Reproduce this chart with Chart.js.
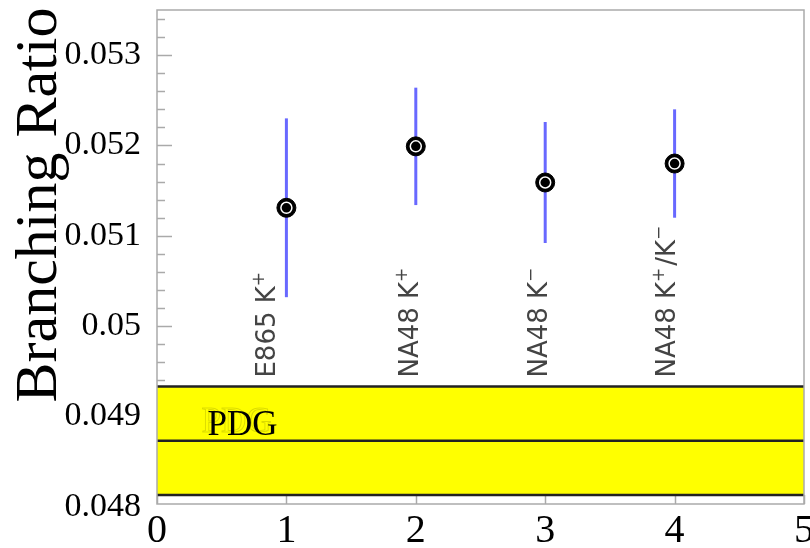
<!DOCTYPE html>
<html><head><meta charset="utf-8">
<script src="https://cdn.jsdelivr.net/npm/chart.js@4"></script>
<style>html,body{margin:0;padding:0;background:#fff}#wrap{width:810px;height:548px}</style>
</head><body><div id="wrap"><canvas id="c" width="810" height="548"></canvas></div>
<script>
const categories = ['E865 K⁺', 'NA48 K⁺', 'NA48 K⁻', 'NA48 K⁺/K⁻'];
const xPositions = [1, 2, 3, 4];
const brValues = [0.05131, 0.05199, 0.05159, 0.05180];
const brErrors = [0.00099, 0.00065, 0.00067, 0.0006];
const pdgValue = 0.04873;
const pdgError = 0.0006;
const yTickValues = [0.048, 0.049, 0.050, 0.051, 0.052, 0.053];
const yTickLabels = ['0.048', '0.049', '0.05', '0.051', '0.052', '0.053'];
const xTickValues = [0, 1, 2, 3, 4, 5];
const xTickLabels = ['0', '1', '2', '3', '4', '5'];

// label anchor positions (in data units)
const labelX = [0.835, 1.94, 2.937, 3.926];
const labelYStart = 0.04943;

const points = xPositions.map((x, i) => ({x: x, y: brValues[i]}));

const decor = {
  id: 'decor',
  beforeDatasetsDraw(chart) {
    const ctx = chart.ctx, xs = chart.scales.x, ys = chart.scales.y, a = chart.chartArea;
    ctx.save();
    // ticks
    ctx.strokeStyle = '#aaa';
    ctx.lineWidth = 1.5;
    for (let k = 1; k <= 27; k++) {
      const v = 0.048 + k * 0.0002;
      const py = Math.round(ys.getPixelForValue(v)) + 0.5;
      const major = k % 5 === 0;
      ctx.beginPath();
      ctx.moveTo(a.left, py);
      ctx.lineTo(a.left + (major ? 15 : 8), py);
      ctx.stroke();
    }
    xTickValues.forEach(v => {
      const px = Math.round(xs.getPixelForValue(v)) + 0.5;
      ctx.beginPath();
      ctx.moveTo(px, a.bottom);
      ctx.lineTo(px, a.bottom - 9);
      ctx.stroke();
    });
    // PDG band
    const yTop = ys.getPixelForValue(pdgValue + pdgError);
    const yBot = ys.getPixelForValue(pdgValue - pdgError);
    const yMid = ys.getPixelForValue(pdgValue);
    const x0 = xs.getPixelForValue(0), x1 = xs.getPixelForValue(5);
    ctx.fillStyle = '#ffff00';
    ctx.fillRect(x0, yTop, x1 - x0, yBot - yTop);
    ctx.strokeStyle = '#222';
    ctx.lineWidth = 2.5;
    [yTop, yMid, yBot].forEach(py => {
      ctx.beginPath();
      ctx.moveTo(x0, py);
      ctx.lineTo(x1, py);
      ctx.stroke();
    });
    // frame
    ctx.strokeStyle = '#aaa';
    ctx.lineWidth = 1.5;
    ctx.strokeRect(a.left, a.top, a.right - a.left, a.bottom - a.top);
    // error bars
    ctx.strokeStyle = '#6868ff';
    ctx.lineWidth = 3;
    xPositions.forEach((x, i) => {
      const px = xs.getPixelForValue(x);
      ctx.beginPath();
      ctx.moveTo(px, ys.getPixelForValue(brValues[i] + brErrors[i]));
      ctx.lineTo(px, ys.getPixelForValue(brValues[i] - brErrors[i]));
      ctx.stroke();
    });
    ctx.restore();
  },
  afterDatasetsDraw(chart) {
    const ctx = chart.ctx, xs = chart.scales.x, ys = chart.scales.y;
    ctx.save();
    // rotated experiment labels
    categories.forEach((txt, i) => {
      const px = xs.getPixelForValue(labelX[i]);
      const py = ys.getPixelForValue(labelYStart);
      ctx.save();
      ctx.translate(px, py);
      ctx.rotate(-Math.PI / 2);
      ctx.fillStyle = '#444';
      ctx.textBaseline = 'alphabetic';
      ctx.textAlign = 'left';
      let cx = 0;
      for (const ch of txt) {
        if (ch === '⁺' || ch === '⁻') {
          ctx.font = '17px "DejaVu Sans"';
          const s = ch === '⁺' ? '+' : '−';
          ctx.fillText(s, cx, -1);
          cx += ctx.measureText(s).width + 2;
        } else {
          ctx.font = '26px "DejaVu Sans"';
          ctx.fillText(ch, cx, 10);
          cx += ctx.measureText(ch).width;
        }
      }
      ctx.restore();
    });
    // PDG label
    const lx = xs.getPixelForValue(0.39), ly = ys.getPixelForValue(pdgValue) - 6;
    ctx.font = '35px "Liberation Serif"';
    ctx.textAlign = 'left';
    ctx.textBaseline = 'alphabetic';
    ctx.strokeStyle = 'rgba(0,0,0,0.14)';
    ctx.lineWidth = 1;
    ctx.strokeText('PDG', lx - 6, ly - 3);
    ctx.fillStyle = '#000';
    ctx.fillText('PDG', lx, ly);
    ctx.restore();
  },
  afterDraw(chart) {
    const ctx = chart.ctx;
    ctx.save();
    ctx.translate(56, 205);
    ctx.rotate(-Math.PI / 2);
    ctx.font = '60px "Liberation Serif"';
    ctx.fillStyle = '#000';
    ctx.textAlign = 'center';
    ctx.textBaseline = 'alphabetic';
    ctx.fillText('Branching Ratio', 0, 0);
    ctx.restore();
  }
};

new Chart(document.getElementById('c'), {
  type: 'scatter',
  data: {
    datasets: [
      {data: points, order: 0, pointRadius: 5.5, pointBackgroundColor: '#000', pointBorderColor: '#fff', pointBorderWidth: 1.5, showLine: false},
      {data: points, order: 1, pointRadius: 9.5, pointBackgroundColor: '#000', pointBorderColor: '#000', pointBorderWidth: 1, showLine: false}
    ]
  },
  options: {
    responsive: false,
    animation: false,
    events: [],
    layout: {autoPadding: false, padding: {top: 10, right: 6, left: 0, bottom: 0}},
    plugins: {legend: {display: false}, tooltip: {enabled: false}},
    scales: {
      x: {
        type: 'linear', min: 0, max: 5,
        grid: {display: false, drawTicks: false},
        border: {display: false},
        afterBuildTicks: s => { s.ticks = xTickValues.map(v => ({value: v})); },
        afterFit: s => { s.height = 44; s.paddingLeft = 0; s.paddingRight = 0; s.paddingTop = 0; s.paddingBottom = 0; },
        ticks: {
          padding: 3, maxRotation: 0, autoSkip: false, color: '#000',
          font: {family: '"Liberation Serif"', size: 40},
          callback: (v, i) => xTickLabels[i]
        }
      },
      y: {
        type: 'linear', min: 0.04803, max: 0.0535,
        grid: {display: false, drawTicks: false},
        border: {display: false},
        afterBuildTicks: s => { s.ticks = yTickValues.map(v => ({value: v})); },
        afterFit: s => { s.width = 157; s.paddingTop = 0; s.paddingBottom = 0; s.paddingLeft = 0; s.paddingRight = 0; },
        ticks: {
          padding: 16, autoSkip: false, color: '#000',
          font: {family: '"Liberation Serif"', size: 34},
          callback: (v, i) => yTickLabels[i]
        }
      }
    }
  },
  plugins: [decor]
});
</script>
</body></html>
